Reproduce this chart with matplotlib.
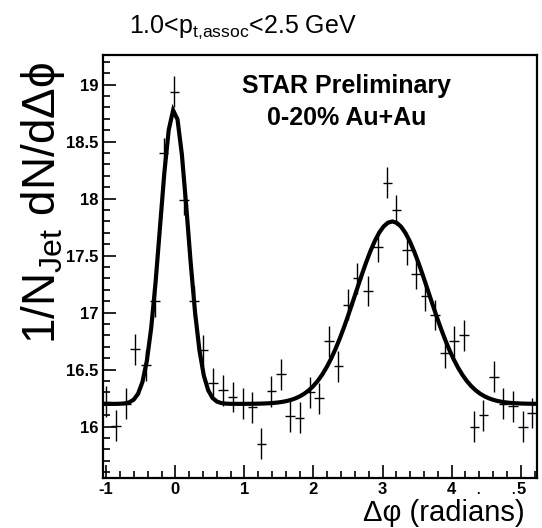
import numpy as np
import matplotlib
matplotlib.use("Agg")
import matplotlib.pyplot as plt
from matplotlib.ticker import MultipleLocator

plt.rcParams['font.family'] = ['Liberation Sans', 'DejaVu Sans']
plt.rcParams['mathtext.fontset'] = 'custom'
plt.rcParams['mathtext.rm'] = 'Liberation Sans'
plt.rcParams['mathtext.it'] = 'Liberation Sans:italic'

# data points
dphi = [-1.00, -0.857, -0.712, -0.583, -0.42, -0.29, -0.17, -0.014, 0.13, 0.275,
        0.405, 0.549, 0.694, 0.83, 0.973, 1.117, 1.247, 1.39, 1.527, 1.66,
        1.80, 1.95, 2.08, 2.22, 2.36, 2.50, 2.635, 2.79, 2.93, 3.07,
        3.20, 3.35, 3.48, 3.62, 3.755, 3.90, 4.03, 4.18, 4.33, 4.46,
        4.61, 4.75, 4.89, 5.03, 5.16]
yield_vals = [16.22, 16.01, 16.20, 16.68, 16.54, 17.10, 18.40, 18.94, 17.99, 17.10,
              16.67, 16.38, 16.32, 16.26, 16.20, 16.17, 15.85, 16.31, 16.46, 16.09,
              16.08, 16.30, 16.25, 16.75, 16.53, 17.07, 17.30, 17.19, 17.58, 18.14,
              17.90, 17.55, 17.34, 17.15, 16.98, 16.65, 16.75, 16.80, 16.00, 16.10,
              16.44, 16.20, 16.18, 16.00, 16.12]
y_err = 0.135
x_err = 0.07

# fit parameters
baseline = 16.20
near_amp, near_mu, near_sigma = 2.58, -0.02, 0.20
away_amp, away_mu, away_sigma = 1.60, 3.14, 0.53

x_lo, x_hi = -np.pi / 3, 5 * np.pi / 3
y_lo, y_hi = 15.55, 19.26

fig = plt.figure(figsize=(5.42, 5.28), dpi=100)
ax = fig.add_axes([0.190, 0.0947, 0.8008, 0.8011])

ax.errorbar(dphi, yield_vals, yerr=y_err, xerr=x_err, fmt='none',
            ecolor='black', elinewidth=1.0, capsize=0)

xf = np.linspace(x_lo, x_hi, 100)
yf = (baseline
      + near_amp * np.exp(-0.5 * ((xf - near_mu) / near_sigma) ** 2)
      + away_amp * np.exp(-0.5 * ((xf - away_mu) / away_sigma) ** 2))
ax.plot(xf, yf, color='black', lw=3.0, solid_joinstyle='miter')

ax.set_xlim(x_lo, x_hi)
ax.set_ylim(y_lo, y_hi)

ax.xaxis.set_minor_locator(MultipleLocator(0.2))
ax.yaxis.set_minor_locator(MultipleLocator(0.1))
ax.set_xticks([-1, 0, 1, 2, 3, 4, 5])
ax.set_xticklabels(['-1', '0', '1', '2', '3', '4', '5'])
ax.set_yticks([16, 16.5, 17, 17.5, 18, 18.5, 19])
ax.set_yticklabels(['16', '16.5', '17', '17.5', '18', '18.5', '19'])

ax.tick_params(which='both', direction='in', top=False, right=False,
               width=1.2, labelsize=12, colors='black')
ax.tick_params(which='major', length=9.5)
ax.tick_params(which='minor', length=5)
ax.tick_params(axis='x', pad=3)
ax.tick_params(axis='y', pad=3)
for lab in ax.get_xticklabels() + ax.get_yticklabels():
    lab.set_fontweight('bold')
for sp in ax.spines.values():
    sp.set_linewidth(1.6)

ax.text(4.38, 15.55 - 0.115, '.', fontsize=9, fontweight='bold', ha='center', va='center')
ax.text(4.88, 15.55 - 0.115, '.', fontsize=9, fontweight='bold', ha='center', va='center')

ax.text(2.48, 18.99, 'STAR Preliminary', fontsize=18, fontweight='bold',
        ha='center', va='center')
ax.text(2.48, 18.71, '0-20% Au+Au', fontsize=18, fontweight='bold',
        ha='center', va='center')

fig.text(0.448, 0.949, r'1.0<p$\mathregular{_{t{,}assoc}}$<2.5 GeV', fontsize=18,
         ha='center', va='center')
fig.text(0.079, 0.615, r'1/N$\mathregular{_{Jet}}$ dN/d$\Delta$ϕ', fontsize=33,
         rotation=90, ha='center', va='center')
fig.text(0.818, 0.001, 'Δφ (radians)', fontsize=21, ha='center', va='bottom')

fig.savefig('out.png', dpi=100)
